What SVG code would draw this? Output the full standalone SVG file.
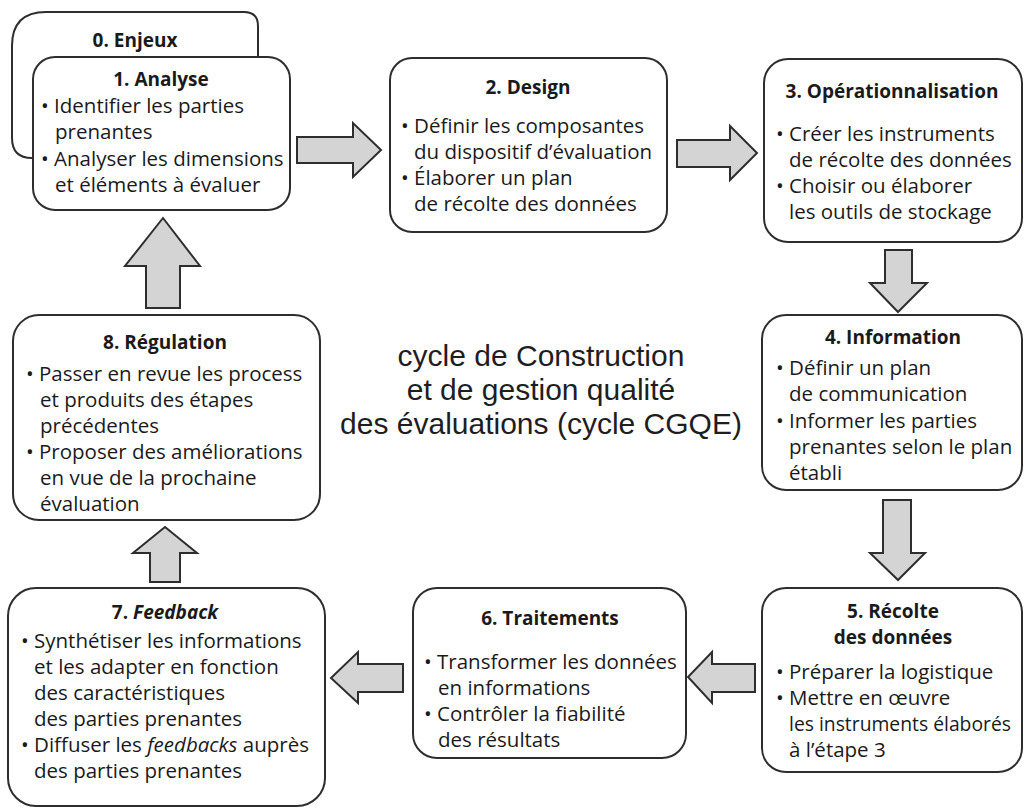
<svg xmlns="http://www.w3.org/2000/svg" width="1026" height="810" viewBox="0 0 1026 810">
<style>
.box{fill:#fff;stroke:#2e2e2e;stroke-width:2}
.arr{fill:#d4d4d4;stroke:#2e2e2e;stroke-width:2;stroke-linejoin:miter}
text{font-family:"Open Sans","Liberation Sans",sans-serif;fill:#1a1a1a;font-size:20.5px}
.t{font-weight:bold;text-anchor:middle;font-size:19px}
.c{font-family:"Liberation Sans","Open Sans",sans-serif;font-size:30px;text-anchor:middle;fill:#1e1e1e}
</style>
<rect width="1026" height="810" fill="#fff"/>
<g id="node0">
<path class="box" d="M46,12 H244 Q258,12 258,26 V158 H32 Q12,158 12,138 V46 Q12,12 46,12 Z"/>
<text class="t" x="135" y="47">0. Enjeux</text>
</g>
<g id="node1">
<rect class="box" x="33" y="57" width="257" height="153" rx="22"/>
<text class="t" x="161" y="86">1. Analyse</text>
<text x="41" y="113">• Identifier les parties</text>
<text x="55" y="139">prenantes</text>
<text x="41" y="166">• Analyser les dimensions</text>
<text x="55" y="192">et éléments à évaluer</text>
</g>
<g id="node2">
<rect class="box" x="390" y="58" width="277" height="174" rx="22"/>
<text class="t" x="528" y="94">2. Design</text>
<text x="401" y="133">• Définir les composantes</text>
<text x="414" y="159">du dispositif d’évaluation</text>
<text x="401" y="185">• Élaborer un plan</text>
<text x="414" y="211">de récolte des données</text>
</g>
<g id="node3">
<rect class="box" x="764" y="59" width="258" height="183" rx="24"/>
<text class="t" x="892" y="98">3. Opérationnalisation</text>
<text x="776" y="141">• Créer les instruments</text>
<text x="789" y="167">de récolte des données</text>
<text x="776" y="193">• Choisir ou élaborer</text>
<text x="789" y="219">les outils de stockage</text>
</g>
<g id="node4">
<rect class="box" x="762" y="315" width="260" height="175" rx="24"/>
<text class="t" x="893" y="344">4. Information</text>
<text x="776" y="375">• Définir un plan</text>
<text x="789" y="401">de communication</text>
<text x="776" y="428">• Informer les parties</text>
<text x="789" y="454">prenantes selon le plan</text>
<text x="789" y="480">établi</text>
</g>
<g id="node5">
<rect class="box" x="762" y="588" width="260" height="184" rx="24"/>
<text class="t" x="893" y="618">5. Récolte</text>
<text class="t" x="893" y="644">des données</text>
<text x="776" y="679">• Préparer la logistique</text>
<text x="776" y="705">• Mettre en œuvre</text>
<text x="789" y="731" textLength="222" lengthAdjust="spacingAndGlyphs">les instruments élaborés</text>
<text x="789" y="757">à l’étape 3</text>
</g>
<g id="node6">
<rect class="box" x="413" y="588" width="273" height="170" rx="24"/>
<text class="t" x="550" y="625">6. Traitements</text>
<text x="424" y="669">• Transformer les données</text>
<text x="438" y="695">en informations</text>
<text x="424" y="721">• Contrôler la fiabilité</text>
<text x="438" y="747">des résultats</text>
</g>
<g id="node7">
<rect class="box" x="8" y="588" width="317" height="218" rx="28"/>
<text class="t" x="165" y="619">7. <tspan font-style="italic">Feedback</tspan></text>
<text x="21" y="648">• Synthétiser les informations</text>
<text x="34" y="674">et les adapter en fonction</text>
<text x="34" y="700">des caractéristiques</text>
<text x="34" y="726">des parties prenantes</text>
<text x="21" y="752">• Diffuser les <tspan font-style="italic">feedbacks</tspan> auprès</text>
<text x="34" y="778">des parties prenantes</text>
</g>
<g id="node8">
<rect class="box" x="13" y="315" width="307" height="205" rx="26"/>
<text class="t" x="165" y="349">8. Régulation</text>
<text x="26" y="381">• Passer en revue les process</text>
<text x="40" y="407">et produits des étapes</text>
<text x="40" y="433">précédentes</text>
<text x="26" y="459">• Proposer des améliorations</text>
<text x="40" y="485">en vue de la prochaine</text>
<text x="40" y="511">évaluation</text>
</g>
<g id="center">
<text class="c" x="541" y="366">cycle de Construction</text>
<text class="c" x="541" y="400">et de gestion qualité</text>
<text class="c" x="541" y="434">des évaluations (cycle CGQE)</text>
</g>
<g id="connectors">
<path class="arr" d="M297,137 H353 V123 L381,150 L353,177 V163 H297 Z"/>
<path class="arr" d="M677,140 H730 V126 L757,153 L730,180 V167 H677 Z"/>
<path class="arr" d="M885,250 H912 V283 H927 L898,312 L870,283 H885 Z"/>
<path class="arr" d="M883,500 H911 V553 H925 L898,580 L870,553 H883 Z"/>
<path class="arr" d="M755,664 H712 V652 L688,677 L712,703 V692 H755 Z"/>
<path class="arr" d="M403,664 H358 V652 L331,678 L358,703 V692 H403 Z"/>
<path class="arr" d="M150,582 V553 H133 L165,527 L197,553 H180 V582 Z"/>
<path class="arr" d="M146,308 V266 H125 L163,218 L200,266 H180 V308 Z"/>
</g>
</svg>
